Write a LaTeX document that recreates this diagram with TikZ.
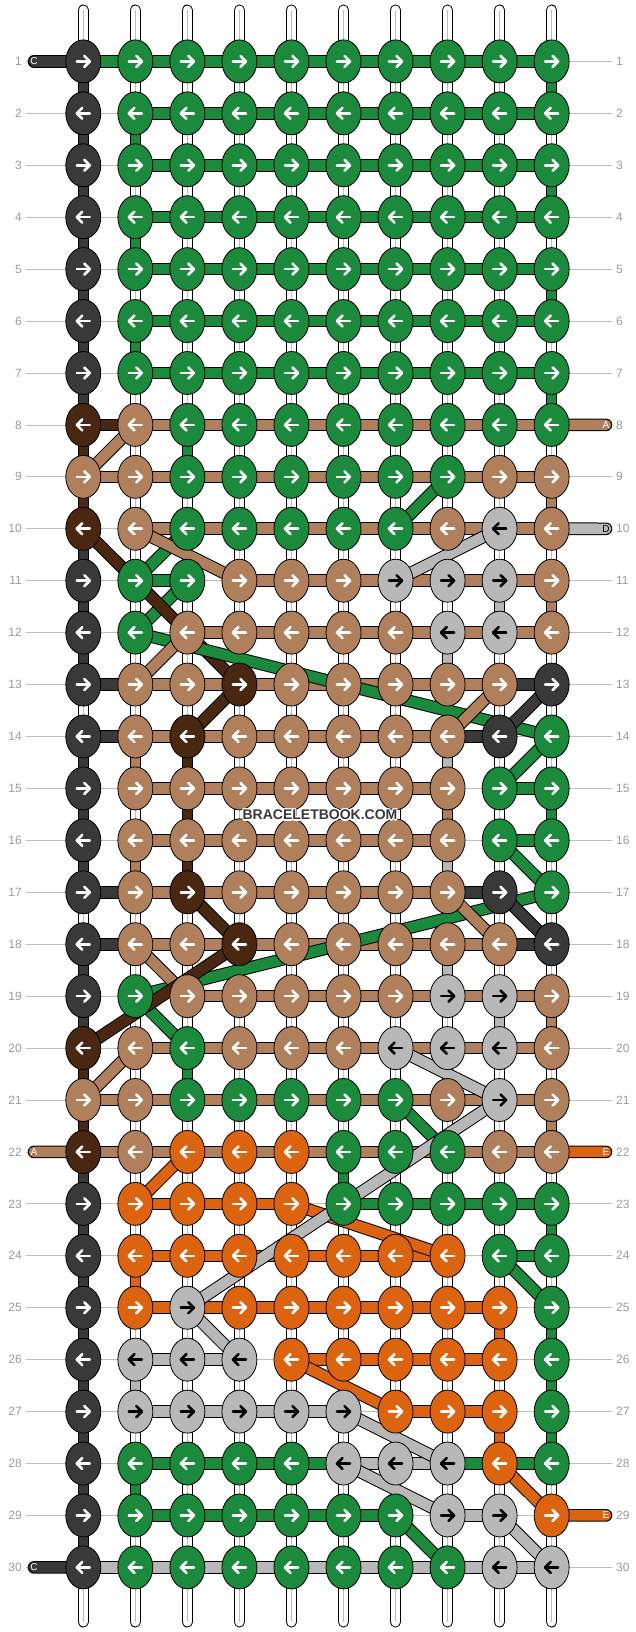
\documentclass[tikz,border=0pt]{standalone}
\usepackage{fontspec}
\setmainfont{Liberation Sans}
\usetikzlibrary{shapes.geometric}
\definecolor{kC}{HTML}{393939}
\definecolor{kG}{HTML}{1B8A3C}
\definecolor{kT}{HTML}{B07F5C}
\definecolor{kB}{HTML}{4A2710}
\definecolor{kL}{HTML}{B8B8B8}
\definecolor{kO}{HTML}{DC6410}
\definecolor{lab}{HTML}{9A9A9A}
\definecolor{rowline}{HTML}{BDBDBD}
\colorlet{aC}{white}\colorlet{aG}{white}\colorlet{aT}{white}
\colorlet{aB}{white}\colorlet{aO}{white}\colorlet{aL}{black}
\pgfdeclarelayer{rowlines}
\pgfdeclarelayer{strands}
\pgfdeclarelayer{verts}
\pgfdeclarelayer{bands}
\pgfdeclarelayer{diags}
\pgfsetlayers{rowlines,strands,verts,bands,diags,main}
\tikzset{
  knot/.style={ellipse, draw=black, line width=0.8pt, minimum width=35pt, minimum height=43pt, inner sep=0pt},
  arrowline/.style={line width=2.6pt, line cap=round, line join=round},
  rowlab/.style={font=\fontsize{12}{12}\selectfont, text=lab, inner sep=0pt},
  endlab/.style={font=\fontsize{10}{10}\selectfont, inner sep=0pt},
  watermark/.style={font=\bfseries\fontsize{14}{14}\selectfont, inner sep=0pt},
}
\newcommand\bandline[3]{%
  \draw[black, line width=12.6pt] (#1) -- (#2);
  \draw[k#3, line width=10.6pt] (#1) -- (#2);}
\newcommand\vertline[3]{%
  \draw[black, line width=11pt] (#1) -- (#2);
  \draw[k#3, line width=9pt] (#1) -- (#2);}
\newcommand\tailband[3]{%
  \draw[black, line width=12.6pt, line cap=round] (#1) -- (#2);
  \draw[k#3, line width=10.6pt, line cap=round] (#1) -- (#2);}
\begin{document}
\begin{tikzpicture}[x=1pt,y=-1pt]
\useasboundingbox (0,0) rectangle (636,1632);
% ---------- knots ----------
\foreach \rr/\lst in {
 1/{C,G,G,G,G,G,G,G,G,G},
 2/{C,G,G,G,G,G,G,G,G,G},
 3/{C,G,G,G,G,G,G,G,G,G},
 4/{C,G,G,G,G,G,G,G,G,G},
 5/{C,G,G,G,G,G,G,G,G,G},
 6/{C,G,G,G,G,G,G,G,G,G},
 7/{C,G,G,G,G,G,G,G,G,G},
 8/{B,T,G,G,G,G,G,G,G,G},
 9/{T,T,G,G,G,G,G,G,T,T},
 10/{B,T,G,G,G,G,G,T,L,T},
 11/{C,G,G,T,T,T,L,L,L,T},
 12/{C,G,T,T,T,T,T,L,L,T},
 13/{C,T,T,B,T,T,T,T,T,C},
 14/{C,T,B,T,T,T,T,T,C,G},
 15/{C,T,T,T,T,T,T,T,G,G},
 16/{C,T,T,T,T,T,T,T,G,G},
 17/{C,T,B,T,T,T,T,T,C,G},
 18/{C,T,T,B,T,T,T,T,T,C},
 19/{C,G,T,T,T,T,T,L,L,T},
 20/{B,T,G,T,T,T,L,L,L,T},
 21/{T,T,G,G,G,G,G,T,L,T},
 22/{B,T,O,O,O,G,G,G,T,T},
 23/{C,O,O,O,O,G,G,G,G,G},
 24/{C,O,O,O,O,O,O,O,G,G},
 25/{C,O,L,O,O,O,O,O,O,G},
 26/{C,L,L,L,O,O,O,O,O,G},
 27/{C,L,L,L,L,L,O,O,O,G},
 28/{C,G,G,G,G,L,L,L,O,G},
 29/{C,G,G,G,G,G,G,L,L,O},
 30/{C,G,G,G,G,G,G,G,L,L}} {
  \pgfmathsetmacro\yy{61.4+51.93*(\rr-1)}
  \foreach \kk [count=\cc] in \lst {
    \pgfmathsetmacro\xx{83.3+52.04*(\cc-1)}
    \node[knot, fill=k\kk] (k-\rr-\cc) at (\xx,\yy) {};
    \begin{scope}[shift={(k-\rr-\cc.center)}]
    \ifodd\rr\relax
      \draw[arrowline, a\kk] (-6.5,0) -- (6.5,0);
      \draw[arrowline, a\kk] (1,-5.5) -- (6.5,0) -- (1,5.5);
    \else
      \draw[arrowline, a\kk] (6.5,0) -- (-6.5,0);
      \draw[arrowline, a\kk] (-1,-5.5) -- (-6.5,0) -- (-1,5.5);
    \fi
    \end{scope}
  }
  \node[rowlab, anchor=east] (lab-L-\rr) at (22,\yy) {\rr};
  \node[rowlab, anchor=west] (lab-R-\rr) at (616,\yy) {\rr};
  \begin{pgfonlayer}{rowlines}
    \draw[rowline, line width=0.8pt] ([xshift=4pt]lab-L-\rr.east) -- ([xshift=-4pt]lab-R-\rr.west);
  \end{pgfonlayer}
}
% ---------- white strands ----------
\begin{pgfonlayer}{strands}
\foreach \cc in {1,...,10} {
  \pgfmathsetmacro\xx{83.3+52.04*(\cc-1)}
  \coordinate (top-\cc) at (\xx,10);
  \coordinate (bot-\cc) at (\xx,1622);
  \draw[black, line width=11pt, line cap=round] (top-\cc) -- (bot-\cc);
  \draw[white, line width=9pt, line cap=round] (top-\cc) -- (bot-\cc);
  \draw[rowline, line width=0.7pt] (top-\cc) -- (bot-\cc);
}
\end{pgfonlayer}
% ---------- coloured vertical pieces ----------
\begin{pgfonlayer}{verts}
\foreach \cc/\rr/\col in {
 1/1/C,1/2/C,1/3/C,1/4/C,1/5/C,1/6/C,1/7/C,1/8/B,1/9/B,1/10/C,1/11/C,1/12/C,
 1/14/C,1/15/C,1/16/C,1/18/C,1/19/C,1/20/B,1/21/B,1/22/C,1/23/C,1/24/C,1/25/C,
 1/26/C,1/27/C,1/28/C,1/29/C,
 2/2/G,2/4/G,2/6/G,2/14/T,2/16/T,2/24/O,2/26/L,2/28/G,
 3/8/G,3/14/B,3/15/B,3/16/B,3/20/G,
 6/22/G,
 8/12/L,8/13/L,8/14/L,8/15/T,8/16/L,8/17/L,8/18/L,
 9/11/L,9/19/L,9/25/O,9/27/O,
 10/1/G,10/3/G,10/5/G,10/7/G,10/9/T,10/11/T,10/15/G,10/19/T,10/21/T,
 10/23/G,10/25/G,10/26/G,10/27/G} {
  \pgfmathtruncatemacro\nr{\rr+1}
  \vertline{k-\rr-\cc.center}{k-\nr-\cc.center}{\col}
}
\end{pgfonlayer}
% ---------- horizontal bands ----------
\begin{pgfonlayer}{bands}
\foreach \rr/\lst in {
 1/{G,G,G,G,G,G,G,G,G},
 2/{N,G,G,G,G,G,G,G,G},
 3/{N,G,G,G,G,G,G,G,G},
 4/{N,G,G,G,G,G,G,G,G},
 5/{N,G,G,G,G,G,G,G,G},
 6/{N,G,G,G,G,G,G,G,G},
 7/{N,G,G,G,G,G,G,G,G},
 8/{B,T,T,T,T,T,T,T,T},
 9/{T,T,T,T,T,T,T,T,T},
 10/{N,T,T,T,T,T,T,T,T},
 11/{N,G,N,T,T,T,T,T,T},
 12/{N,N,T,T,T,T,T,T,T},
 13/{C,T,T,T,T,T,T,T,C},
 14/{C,T,T,T,T,T,T,C,N},
 15/{N,T,T,T,T,T,T,N,G},
 16/{N,T,T,T,T,T,T,N,G},
 17/{C,T,T,T,T,T,T,C,N},
 18/{C,T,T,T,T,T,T,T,C},
 19/{N,N,T,T,T,T,T,T,T},
 20/{N,T,T,T,T,T,T,T,T},
 21/{T,T,T,T,T,T,T,T,T},
 22/{T,T,T,T,T,T,T,T,T},
 23/{N,O,O,O,N,G,G,G,G},
 24/{N,O,O,O,O,O,O,N,G},
 25/{N,O,O,O,O,O,O,O,N},
 26/{N,L,L,N,O,O,O,O,N},
 27/{N,L,L,L,L,N,O,O,N},
 28/{N,G,G,G,G,L,L,G,G},
 29/{N,G,G,G,G,G,N,L,N},
 30/{L,L,L,L,L,L,L,L,L}} {
  \foreach \bb [count=\cc] in \lst {
    \if\bb N\else
      \pgfmathtruncatemacro\nc{\cc+1}
      \bandline{k-\rr-\cc.center}{k-\rr-\nc.center}{\bb}
    \fi
  }
}
% end bands with letters
\coordinate (eL1) at (34,61.4);
\coordinate (eL30) at (34,1567.4);
\coordinate (eL22) at (34,1151.9);
\coordinate (eR8) at (606,424.9);
\coordinate (eR10) at (606,528.8);
\coordinate (eR22) at (606,1151.9);
\coordinate (eR29) at (606,1515.4);
\tailband{eL1}{k-1-1.center}{C}
\tailband{eL30}{k-30-1.center}{C}
\tailband{eL22}{k-22-1.center}{T}
\tailband{eR8}{k-8-10.center}{T}
\tailband{eR10}{k-10-10.center}{L}
\tailband{eR22}{k-22-10.center}{O}
\tailband{eR29}{k-29-10.center}{O}
\end{pgfonlayer}
\node[endlab, text=white] (tC1) at (eL1) {C};
\node[endlab, text=white] (tC30) at (eL30) {C};
\node[endlab, text=white] (tA22) at (eL22) {A};
\node[endlab, text=white] (tA8) at (eR8) {A};
\node[endlab, text=black] (tD10) at (eR10) {D};
\node[endlab, text=white] (tE22) at (eR22) {E};
\node[endlab, text=white] (tE29) at (eR29) {E};
% ---------- diagonal threads ----------
\begin{pgfonlayer}{diags}
\foreach \ca/\ra/\cb/\rb/\col in {
 8/9/7/10/G, 3/10/2/11/G, 3/11/2/12/G, 10/14/9/15/G, 9/16/10/17/G,
 2/19/3/20/G, 7/21/8/22/G, 9/24/10/25/G, 7/29/8/30/G,
 1/10/4/13/B, 4/13/3/14/B, 3/17/4/18/B,
 2/12/10/14/G, 10/17/2/19/G,
 2/8/1/9/T, 2/10/4/11/T, 3/12/2/13/T, 9/13/8/14/T, 8/17/9/18/T,
 2/18/3/19/T, 2/20/1/21/T,
 4/18/1/20/B,
 10/13/9/14/C, 9/17/10/18/C,
 3/22/2/23/O, 5/23/8/24/O, 5/26/7/27/O, 9/28/10/29/O,
 9/10/7/11/L, 7/20/9/21/L, 9/21/3/25/L, 3/25/4/26/L, 6/27/8/28/L,
 6/28/8/29/L, 9/29/10/30/L} {
  \bandline{k-\ra-\ca.center}{k-\rb-\cb.center}{\col}
}
\end{pgfonlayer}
% ---------- watermark ----------
\foreach \dx/\dy [count=\i] in {1.3/0,-1.3/0,0/1.3,0/-1.3,1/1,1/-1,-1/1,-1/-1} {
  \node[watermark, text=white] (wmh-\i) at (320+\dx,815+\dy) {BRACELETBOOK.COM};
}
\node[watermark, text=kC] (wm) at (320,815) {BRACELETBOOK.COM};
\end{tikzpicture}
\end{document}
